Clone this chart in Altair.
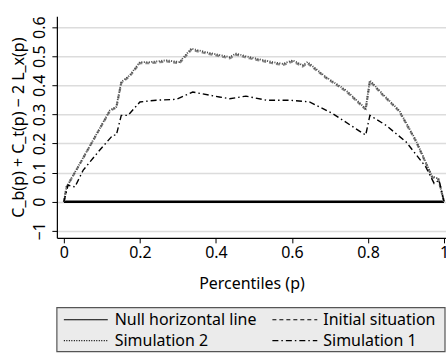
import altair as alt
import pandas as pd

series_names = ["Null horizontal line", "Initial situation", "Simulation 2", "Simulation 1"]

null_p = [0.0, 1.0]
null_v = [0.0, 0.0]

sim2_p = [0.0, 0.007, 0.042, 0.121, 0.138, 0.151, 0.173, 0.2, 0.226, 0.27, 0.304, 0.335, 0.374,
          0.436, 0.453, 0.488, 0.549, 0.576, 0.602, 0.628, 0.641, 0.689, 0.742, 0.794, 0.805,
          0.838, 0.882, 0.926, 0.969, 0.985, 1.0]
sim2_v = [0.0, 0.051, 0.131, 0.314, 0.326, 0.411, 0.434, 0.48, 0.48, 0.486, 0.48, 0.526, 0.514,
          0.497, 0.509, 0.497, 0.48, 0.474, 0.486, 0.469, 0.48, 0.429, 0.383, 0.32, 0.417,
          0.371, 0.314, 0.211, 0.086, 0.08, 0.0]

init_p = sim2_p
init_v = [0.0, 0.05, 0.13, 0.312, 0.324, 0.408, 0.431, 0.476, 0.476, 0.482, 0.476, 0.522, 0.51,
          0.493, 0.505, 0.493, 0.476, 0.47, 0.482, 0.465, 0.476, 0.426, 0.38, 0.317, 0.414,
          0.368, 0.311, 0.208, 0.084, 0.078, 0.0]

sim1_p = [0.0, 0.011, 0.029, 0.051, 0.094, 0.129, 0.138, 0.151, 0.169, 0.2, 0.243, 0.296, 0.339,
          0.409, 0.436, 0.479, 0.532, 0.593, 0.646, 0.707, 0.794, 0.805, 0.847, 0.9, 0.952,
          0.974, 0.987, 1.0]
sim1_v = [0.0, 0.057, 0.051, 0.109, 0.177, 0.229, 0.229, 0.297, 0.297, 0.343, 0.349, 0.352, 0.377,
          0.36, 0.354, 0.363, 0.349, 0.349, 0.343, 0.303, 0.229, 0.297, 0.263, 0.206, 0.12,
          0.063, 0.074, 0.0]

y_ticks = [-0.1, 0.0, 0.1, 0.2, 0.3, 0.4, 0.5, 0.6]
x_ticks = [0, 0.2, 0.4, 0.6, 0.8, 1.0]

rows = []
for name, ps, vs in [(series_names[0], null_p, null_v), (series_names[1], init_p, init_v),
                     (series_names[2], sim2_p, sim2_v), (series_names[3], sim1_p, sim1_v)]:
    for i, (p, v) in enumerate(zip(ps, vs)):
        rows.append({"series": name, "p": p, "v": v, "i": i})
df = pd.DataFrame(rows)

FONT = "Noto Sans"
FS = 16
W, H = 390, 222

dash_scale = alt.Scale(domain=series_names, range=[[1, 0], [4, 3], [1, 1.5], [6, 3, 1.5, 3]])

lines = alt.Chart(df).mark_line(clip=True).encode(
    x=alt.X("p:Q", scale=alt.Scale(domain=[-0.0184, 1.0052], nice=False, zero=False),
            axis=alt.Axis(values=x_ticks, title="Percentiles (p)", grid=False,
                          format="~g", labelFlush=False)),
    y=alt.Y("v:Q", scale=alt.Scale(domain=[-0.124, 0.637], nice=False, zero=False),
            axis=alt.Axis(values=y_ticks, title="C_b(p) + C_t(p) − 2 L_x(p)",
                          labelExpr="datum.value < 0 ? '−1' : format(datum.value, '.1~f')",
                          labelAngle=270, labelAlign="center", labelBaseline="bottom",
                          labelPadding=4, grid=True)),
    order="i:Q",
    detail="series:N",
    strokeDash=alt.StrokeDash("series:N", scale=dash_scale, legend=None),
    color=alt.Color("series:N", scale=alt.Scale(domain=series_names,
                    range=["#000000", "#888888", "#444444", "#000000"]), legend=None),
    strokeWidth=alt.StrokeWidth("series:N", scale=alt.Scale(domain=series_names,
                                range=[2.6, 1.4, 1.6, 1.6]), legend=None),
)

# Legend (laid out in code from the series list: 2 columns)
leg = pd.DataFrame({"series": series_names})
leg["col"] = [i % 2 for i in range(len(series_names))]
leg["row"] = [i // 2 for i in range(len(series_names))]
leg_calc = alt.Chart(leg).transform_calculate(
    sx="datum.col == 0 ? 7 : 216",
    sx2="datum.col == 0 ? 51 : 261",
    tx="datum.col == 0 ? 58 : 267",
    ly="304 + datum.row * 21",
)

box = alt.Chart(leg).mark_rect(fill="#ebebeb", stroke="#555", strokeWidth=1.2).encode(
    x=alt.value(0), x2=alt.value(W - 1), y=alt.value(292), y2=alt.value(336)
).transform_filter("datum.col == 0 && datum.row == 0")

sym = leg_calc.mark_rule(strokeWidth=1.1, color="#000").encode(
    x=alt.X("sx:Q", scale=None), x2="sx2:Q", y=alt.Y("ly:Q", scale=None),
    strokeDash=alt.StrokeDash("series:N", scale=dash_scale, legend=None),
)

txt = leg_calc.mark_text(align="left", baseline="middle", font=FONT, fontSize=FS,
                         color="#000").encode(
    x=alt.X("tx:Q", scale=None), y=alt.Y("ly:Q", scale=None), text="series:N",
)

chart = alt.layer(lines, box, sym, txt).resolve_scale(x="independent", y="independent").properties(
    width=W, height=H,
    padding={"left": 57, "top": 16, "right": 0, "bottom": 117},
    autosize=alt.AutoSizeParams(type="none"),
).configure_view(stroke=None).configure_axis(
    labelFont=FONT, titleFont=FONT, labelFontSize=FS, titleFontSize=FS,
    labelColor="#000", titleColor="#000", titleFontWeight="normal",
    domainColor="#000", tickColor="#000", tickSize=5, domainWidth=1.2,
    gridColor="#dcdcdc", gridWidth=1.5,
).configure_axisX(titlePadding=15, labelPadding=2).configure_axisY(titlePadding=5)

chart.save("out.html", embed_options={"renderer": "svg", "actions": False})
